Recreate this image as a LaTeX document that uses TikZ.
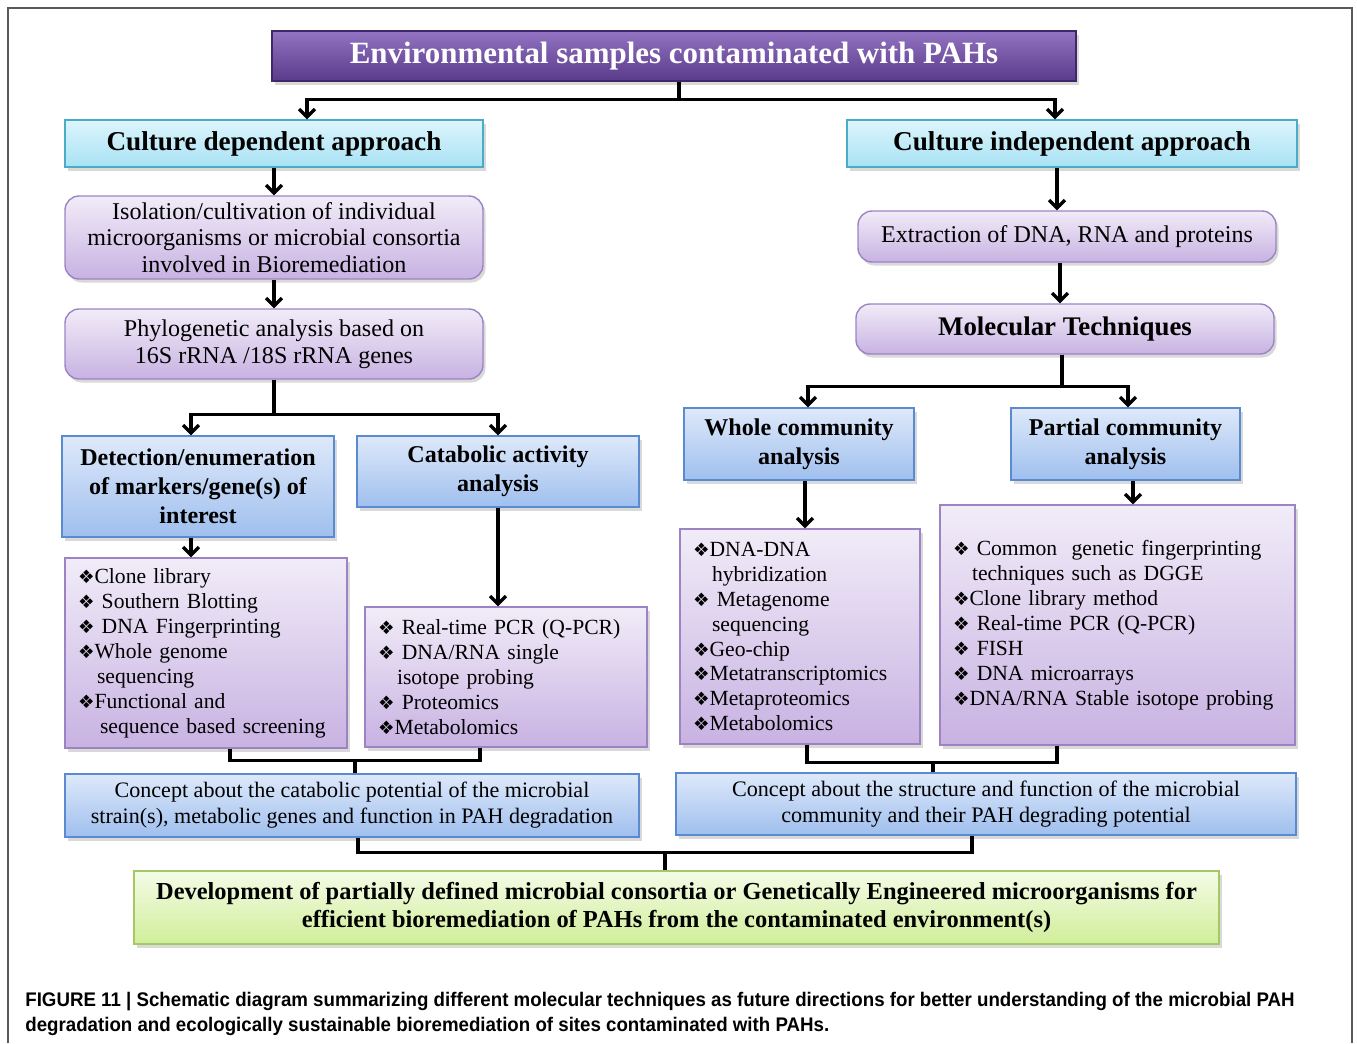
\documentclass[tikz,border=0pt]{standalone}
\usepackage{fontspec}
\setmainfont{Liberation Serif}
\newfontfamily\symf{DejaVu Sans}
\newfontfamily\capf[FakeStretch=0.95]{Liberation Sans}
\usetikzlibrary{arrows.meta,shadows}

\definecolor{envtop}{HTML}{9274C2}
\definecolor{envbot}{HTML}{5A3A8A}
\definecolor{envline}{HTML}{3F2869}
\definecolor{apptop}{HTML}{DDF5FC}
\definecolor{appbot}{HTML}{A8E2F4}
\definecolor{appline}{HTML}{4BACC6}
\definecolor{proctop}{HTML}{F1ECF8}
\definecolor{procbot}{HTML}{C8B2E2}
\definecolor{procline}{HTML}{9C84C4}
\definecolor{anatop}{HTML}{DEE9FA}
\definecolor{anabot}{HTML}{9FBFEE}
\definecolor{analine}{HTML}{5A8AD0}
\definecolor{devtop}{HTML}{F5FBE6}
\definecolor{devbot}{HTML}{D0EE9A}
\definecolor{devline}{HTML}{A5C866}

\newcommand{\dmd}{{\symf\fontsize{10.5}{10}\selectfont ❖}}
\newcommand{\indt}{\hspace*{0.38cm}}

\begin{document}
\begin{tikzpicture}[
  shd/.style = {drop shadow={opacity=0.3, shadow xshift=0.05cm, shadow yshift=-0.07cm}},
  env/.style = {draw=envline, line width=0.8pt, top color=envtop, bottom color=envbot, text=white, font=\fontsize{17.6}{20}\selectfont\bfseries, shd},
  app/.style = {draw=appline, line width=0.8pt, top color=apptop, bottom color=appbot, font=\fontsize{15.5}{18}\selectfont\bfseries, shd},
  proc/.style = {draw=procline, line width=0.8pt, rounded corners=8pt, top color=proctop, bottom color=procbot, align=center, font=\fontsize{13.7}{15.2}\selectfont, shd},
  ana/.style = {draw=analine, line width=0.8pt, top color=anatop, bottom color=anabot, align=center, font=\fontsize{13.7}{16.6}\selectfont\bfseries, shd},
  lst/.style = {draw=procline, line width=0.8pt, top color=proctop, bottom color=procbot, align=left, inner xsep=0.26cm, font=\fontsize{12.3}{14.2}\selectfont, shd},
  dev/.style = {draw=devline, line width=0.8pt, top color=devtop, bottom color=devbot, align=center, font=\fontsize{13.9}{15.9}\selectfont\bfseries, shd},
  link/.style = {line width=1.9pt},
  >={Straight Barb[length=4.5pt,width=9pt]}
]
\useasboundingbox (0,0) rectangle (27.14,-20.86);
\draw[black!65, line width=1.1pt] (0.16,-20.86) -- (0.16,-0.16) -- (27.04,-0.16) -- (27.04,-20.86);

\node[env, minimum width=16.08cm, minimum height=1cm] (1) at (13.48,-1.12) {Environmental samples contaminated with PAHs};
\node[app, minimum width=8.36cm, minimum height=0.94cm] (2) at (5.48,-2.87) {Culture dependent approach};
\node[app, minimum width=9cm, minimum height=0.94cm] (3) at (21.44,-2.87) {Culture independent approach};
\node[proc, minimum width=8.36cm, minimum height=1.66cm] (4) at (5.48,-4.75) {Isolation/cultivation of individual\\ microorganisms or microbial consortia\\ involved in Bioremediation};
\node[proc, minimum width=8.36cm, minimum height=1.4cm] (5) at (5.48,-6.88) {Phylogenetic analysis based on\\ 16S rRNA /18S rRNA genes};
\node[proc, minimum width=8.36cm, minimum height=1.02cm] (6) at (21.34,-4.73) {Extraction of DNA, RNA and proteins};
\node[proc, minimum width=8.36cm, minimum height=1cm, font=\fontsize{15.3}{18}\selectfont\bfseries] (7) at (21.3,-6.58) {Molecular Techniques};
\node[ana, minimum width=5.44cm, minimum height=2.02cm] (8) at (3.96,-9.73) {Detection/enumeration\\ of markers/gene(s) of\\ interest};
\node[ana, minimum width=5.64cm, minimum height=1.42cm] (9) at (9.96,-9.43) {Catabolic activity\\ analysis};
\node[ana, minimum width=4.6cm, minimum height=1.44cm] (10) at (15.98,-8.88) {Whole community\\ analysis};
\node[ana, minimum width=4.58cm, minimum height=1.44cm] (11) at (22.51,-8.88) {Partial community\\ analysis};
\node[lst, text width=5.12cm, minimum height=3.8cm] (12) at (4.12,-13.06) {\dmd Clone library\\ \dmd\ Southern Blotting\\ \dmd\ DNA Fingerprinting\\ \dmd Whole genome\\ \indt sequencing\\ \dmd Functional and\\ \indt\hspace*{0.06cm}sequence based screening};
\node[lst, text width=5.12cm, minimum height=2.8cm] (13) at (10.12,-13.54) {\dmd\ Real-time PCR (Q-PCR)\\ \dmd\ DNA/RNA single\\ \indt isotope probing\\ \dmd\ Proteomics\\ \dmd Metabolomics};
\node[lst, text width=4.28cm, minimum height=4.3cm] (14) at (16,-12.73) {\dmd DNA-DNA\\ \indt hybridization\\ \dmd\ Metagenome\\ \indt sequencing\\ \dmd Geo-chip\\ \dmd Metatranscriptomics\\ \dmd Metaproteomics\\ \dmd Metabolomics};
\node[lst, text width=6.58cm, minimum height=4.8cm] (15) at (22.35,-12.5) {\dmd\ Common\ \ genetic fingerprinting\\ \indt techniques such as DGGE\\ \dmd Clone library method\\ \dmd\ Real-time PCR (Q-PCR)\\ \dmd\ FISH\\ \dmd\ DNA microarrays\\ \dmd DNA/RNA Stable isotope probing};
\node[ana, minimum width=11.48cm, minimum height=1.26cm, font=\fontsize{12.55}{14.7}\selectfont] (16) at (7.04,-16.11) {Concept about the catabolic potential of the microbial\\ strain(s), metabolic genes and function in PAH degradation};
\node[ana, minimum width=12.4cm, minimum height=1.24cm, font=\fontsize{12.6}{14.7}\selectfont] (17) at (19.72,-16.08) {Concept about the structure and function of the microbial\\ community and their PAH degrading potential};
\node[dev, minimum width=21.7cm, minimum height=1.46cm] (18) at (13.53,-18.15) {Development of partially defined microbial consortia or Genetically Engineered microorganisms for\\ efficient bioremediation of PAHs from the contaminated environment(s)};

\node[anchor=north west, align=left, inner sep=0pt, font=\capf\bfseries\fontsize{11.2}{14.2}\selectfont] (19) at (0.5,-19.84) {FIGURE 11 | Schematic diagram summarizing different molecular techniques as future directions for better understanding of the microbial PAH\\ degradation and ecologically sustainable bioremediation of sites contaminated with PAHs.};

\draw[link,->] ([xshift=0.1cm]1.south) -- ++(0,-0.36) -| ([xshift=0.66cm]2.north);
\draw[link,->] ([xshift=0.1cm]1.south) -- ++(0,-0.36) -| ([xshift=-0.34cm]3.north);
\draw[link,->] (2) -- (4);
\draw[link,->] (4) -- (5);
\draw[link,->] (5.south) -- ++(0,-0.7) -| ([xshift=-0.14cm]8.north);
\draw[link,->] (5.south) -- ++(0,-0.7) -| (9.north);
\draw[link,->] ([xshift=-0.14cm]8.south) -- ([xshift=-0.14cm]8.south |- 12.north);
\draw[link,->] (9) -- (9 |- 13.north);
\draw[link,->] ([xshift=-0.3cm]3.south) -- ([xshift=-0.3cm]3.south |- 6.north);
\draw[link,->] ([xshift=-0.14cm]6.south) -- ([xshift=-0.14cm]6.south |- 7.north);
\draw[link,->] ([xshift=-0.06cm]7.south) -- ++(0,-0.64) -| ([xshift=0.18cm]10.north);
\draw[link,->] ([xshift=-0.06cm]7.south) -- ++(0,-0.64) -| ([xshift=0.05cm]11.north);
\draw[link,->] ([xshift=0.12cm]10.south) -- ([xshift=0.12cm]10.south |- 14.north);
\draw[link,->] ([xshift=0.15cm]11.south) -- ([xshift=0.15cm]11.south |- 15.north);
\draw[link] ([xshift=0.48cm]12.south) -- ++(0,-0.24) -| ([xshift=-0.52cm]13.south);
\draw[link] ([xshift=0.06cm]16.north) -- ++(0,0.28);
\draw[link] ([xshift=0.14cm]14.south) -- ++(0,-0.36) -| ([xshift=-1.21cm]15.south);
\draw[link] ([xshift=-1.06cm]17.north) -- ++(0,0.22);
\draw[link] ([xshift=0.12cm]16.south) -- ++(0,-0.3) -| ([xshift=-0.28cm]17.south);
\draw[link] ([xshift=-0.23cm]18.north) -- ++(0,0.38);
\end{tikzpicture}
\end{document}
